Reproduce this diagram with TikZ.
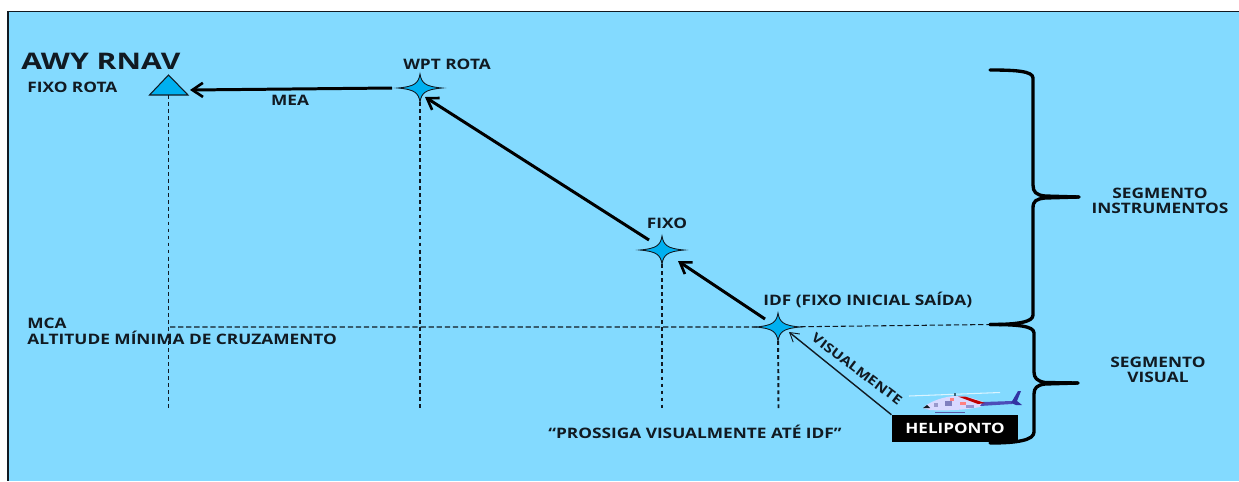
\documentclass[tikz,border=0pt]{standalone}
\usepackage{fontspec}
\setmainfont[FakeStretch=1.2]{Open Sans}
\newfontfamily\bigfont[FakeStretch=1.32]{Open Sans}
\usetikzlibrary{arrows.meta}
\definecolor{skyb}{HTML}{83DAFF}
\definecolor{fixb}{HTML}{00B0F0}
\definecolor{ink}{HTML}{111A22}
\tikzset{
 px/.style={x=0.02cm,y=-0.02cm},
 lab/.style={font=\bfseries\fontsize{8.2}{8.7}\selectfont,text=ink,inner sep=0pt,align=center},
 drop/.style={draw=ink,line width=1.1pt,dash pattern=on 2.2pt off 1.8pt},
 flight/.style={draw=black,line width=1.7pt,-{Straight Barb[length=6pt,width=8pt,line width=1.5pt]}},
 brace/.style={draw=black,line width=1.9pt,line cap=round,line join=round},
}
\newcommand{\fourstar}[1]{%
 \fill[fixb,draw=ink,line width=.5pt,shift={(#1)}]
 (0,-14) .. controls (1.5,-5) and (5,-1.5) .. (22,0)
 .. controls (5,1.5) and (1.5,5) .. (0,14)
 .. controls (-1.5,5) and (-5,1.5) .. (-22,0)
 .. controls (-5,-1.5) and (-1.5,-5) .. (0,-14) -- cycle;}
\begin{document}
\begin{tikzpicture}[px]
\useasboundingbox (0,0) rectangle (1239,481);
\fill[white] (0,0) rectangle (1239,481);
\fill[skyb] (8,11) rectangle (1239,481);
\draw[ink,line width=.7pt] (1239,11.5) -- (8,11.5) -- (8,481);
% nodes
\coordinate (triT) at (168.5,75);
\coordinate (triL) at (149.5,95);
\coordinate (triR) at (188,95);
\fill[fixb,draw=ink,line width=.6pt] (triT)--(triR)--(triL)--cycle;
\coordinate (wpt) at (420,88);
\coordinate (fixo) at (662,250);
\coordinate (idf) at (778,327);
% vertical droppers
\coordinate (d0) at (168.5,95);
\coordinate (d1) at (168.5,408);\coordinate (d2) at (420,408);\coordinate (d3) at (662,411);\coordinate (d4) at (778.5,411);
\draw[drop] (d0) -- (d1);
\draw[drop] (wpt) -- (d2);
\draw[drop] (fixo) -- (d3);
\draw[drop] (idf) -- (d4);
% dashed MCA
\coordinate (mcaL) at (170,327);
\coordinate (mcaR) at (990,324.5);
\draw[draw=ink,line width=.6pt,dash pattern=on 3pt off 1.6pt] (mcaL) -- (idf) -- (mcaR);
\fourstar{wpt}
\fourstar{fixo}
\fourstar{idf}
% arrows
\coordinate (a1s) at (392,88);\coordinate (a1e) at (190,90);
\draw[flight] (a1s) -- (a1e);
\coordinate (a2s) at (649,240);\coordinate (a2e) at (425,97);
\draw[flight] (a2s) -- (a2e);
\coordinate (a3s) at (765,319);\coordinate (a3e) at (678,261);
\draw[flight] (a3s) -- (a3e);
% heliponto
\node[fill=black,text=white,minimum width=72pt,minimum height=15.3pt,inner sep=0pt,font=\bfseries\fontsize{8.1}{9}\selectfont] (heli) at (955,428.5) {HELIPONTO};
\coordinate (visE) at (789,332);
\draw[draw=ink,line width=.8pt,-{Straight Barb[length=5pt,width=6pt,line width=.5pt]}] (heli.north west) -- (visE);
% helicopter
\draw[white!70!skyb,line width=.6pt] (909,396) -- (1000,392.5);
\draw[ink!60!skyb,line width=.8pt] (955,393)--(955,397);
\fill[white!85!blue] (923,408) .. controls (928,403) and (938,398) .. (953,396) .. controls (965,396) and (975,398) .. (985,403) -- (980,407) .. controls (965,410) and (945,411) .. (930,410) -- cycle;
\fill[blue!60!black!70] (983,402) -- (1012,401) -- (1012,404) -- (980,406) -- cycle;
\fill[red!75!black] (958,396.5) -- (965,396.5) -- (985,403) -- (978,404) -- cycle;
\fill[blue!55!black!80] (1011,403) -- (1018,391) -- (1021,391) -- (1017,401) -- (1022,405) -- (1016,405) -- cycle;
\fill[blue!50!black!50] (945,401) rectangle (952,406);
\fill[blue!50!black!40] (934,403) rectangle (938,407);
\fill[red!50!white] (950,398) rectangle (954,401);
\fill[red!50!white] (960,402) rectangle (966,405);
\fill[blue!40!gray!60] (966,405) rectangle (974,408);
\fill[ink] (923,408) -- (927,405) -- (930,408) -- cycle;
\draw[blue!30!gray,line width=.5pt] (935,412.5) -- (965,412.5);
% braces
\coordinate (b0) at (990,70);\coordinate (bm) at (1079,197);\coordinate (b1) at (990,324.5);\coordinate (bm2) at (1078,383);\coordinate (b2) at (990,443);
\draw[brace] (b0) .. controls (1015,70) and (1033,71) .. (1033,78) -- (1033,185)
 .. controls (1033,192) and (1036,195) .. (1045,196) -- (bm);
\draw[brace] (bm) -- (1045,198) .. controls (1036,199) and (1033,201) .. (1033,208) -- (1033,315)
 .. controls (1033,322) and (1018,324.5) .. (b1);
\draw[brace] (b1) .. controls (1018,324.5) and (1034,326) .. (1034,333) -- (1034,372)
 .. controls (1034,378) and (1037,381) .. (1045,382.5) -- (bm2);
\draw[brace] (bm2) -- (1045,384) .. controls (1037,385) and (1034,388) .. (1034,394) -- (1034,432)
 .. controls (1034,440) and (1018,443) .. (b2);
% labels
\node[lab,font=\bigfont\bfseries\fontsize{13}{14}\selectfont,anchor=west] (awy) at (21,61) {AWY RNAV};
\node[lab,anchor=west] (fr) at (27,87) {FIXO ROTA};
\node[lab] (wl) at (447,64) {WPT ROTA};
\node[lab] (mea) at (290,100) {MEA};
\node[lab] (fl) at (667,223) {FIXO};
\node[lab,anchor=west] (il) at (763,300) {IDF (FIXO INICIAL SAÍDA)};
\node[lab,anchor=west] (mca) at (27,323) {MCA};
\node[lab,anchor=west] (alt) at (27,338) {ALTITUDE MÍNIMA DE CRUZAMENTO};
\node[lab,rotate=-37,font=\bfseries\fontsize{7.4}{8}\selectfont] (vis) at (857,369) {VISUALMENTE};
\node[lab] (pro) at (695,432) {“PROSSIGA VISUALMENTE ATÉ IDF”};
\node[lab] (si) at (1160,201) {SEGMENTO\\INSTRUMENTOS};
\node[lab] (sv) at (1158,370) {SEGMENTO\\VISUAL};
\end{tikzpicture}
\end{document}
